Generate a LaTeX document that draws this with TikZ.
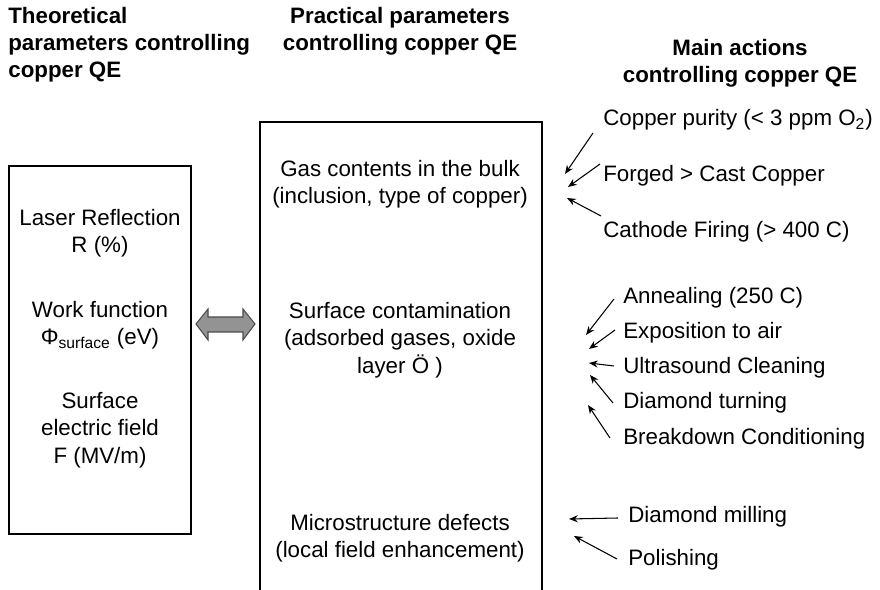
\documentclass[tikz,border=0pt]{standalone}
\usepackage{fontspec}
\setmainfont{Liberation Sans}
\usetikzlibrary{arrows.meta}
\begin{document}
\begin{tikzpicture}[x=0.02cm,y=-0.02cm,
  txt/.style={inner sep=0pt,align=center,font=\fontsize{12.7pt}{15.6pt}\selectfont},
  ltxt/.style={inner sep=0pt,anchor=west,align=left,font=\fontsize{12.7pt}{15.6pt}\selectfont},
  head/.style={inner sep=0pt,align=center,font=\fontsize{12.7pt}{15.4pt}\selectfont\bfseries},
  frame/.style={draw=black,line width=0.85pt},
  act/.style={-{Stealth[length=5pt,width=4pt]},line width=0.6pt}]
\useasboundingbox (0,0) rectangle (880,590);

% column headings
\node[head,anchor=west,align=left] (h1) at (8,45) {Theoretical\\parameters controlling\\copper QE};
\node[head] (h2) at (400,31) {Practical parameters\\controlling copper QE};
\node[head] (h3) at (740,63) {Main actions\\controlling copper QE};

% theoretical parameters box
\node[frame,minimum width=3.64cm,minimum height=7.36cm,inner sep=0pt] (lbox) at (100,350) {};
\node[txt] (refl) at (100,233) {Laser Reflection\\R (\%)};
\node[txt] (wf) at (100,325) {Work function\\Φ\textsubscript{surface} (eV)};
\node[txt] (field) at (100,430) {Surface\\electric field\\F (MV/m)};

% two-way link between the columns
\draw[fill=gray!85,draw=gray!60!black,line width=0.6pt]
  (196,324) -- (208,309) -- (208,317) -- (243,317) -- (243,309) -- (255,324)
  -- (243,340) -- (243,332) -- (208,332) -- (208,340) -- cycle;

% practical parameters box (open at the bottom)
\coordinate (mbl) at (260,590);
\coordinate (mtr) at (542,122);
\coordinate (mbr) at (542,590);
\draw[frame] (mbl) |- (mtr) -- (mbr);
\node[txt] (gas) at (400,184) {Gas contents in the bulk\\(inclusion, type of copper)};
\node[txt] (surf) at (400,340) {Surface contamination\\(adsorbed gases, oxide\\layer Ö )};
\node[txt] (micro) at (400,538) {Microstructure defects\\(local field enhancement)};

% actions on the bulk
\node[ltxt] (pur) at (603,120) {Copper purity (< 3 ppm O\textsubscript{2})};
\node[ltxt] (forg) at (603,176) {Forged > Cast Copper};
\node[ltxt] (fire) at (603,232) {Cathode Firing (> 400 C)};
\coordinate (g1) at (565,174);
\coordinate (g2) at (568,187);
\coordinate (g3) at (567,198);
\draw[act] (593,133) -- (g1);
\draw[act] (600,164) -- (g2);
\draw[act] (601,216) -- (g3);

% actions on the surface
\node[ltxt] (anneal) at (623,298) {Annealing (250 C)};
\node[ltxt] (expo) at (623,333) {Exposition to air};
\node[ltxt] (ultra) at (623,368) {Ultrasound Cleaning};
\node[ltxt] (dturn) at (623,403) {Diamond turning};
\node[ltxt] (bdc) at (623,439) {Breakdown Conditioning};
\coordinate (s1) at (586,335);
\coordinate (s2) at (589,349);
\coordinate (s3) at (589,363);
\coordinate (s4) at (590,375);
\coordinate (s5) at (588,405);
\draw[act] (614,299) -- (s1);
\draw[act] (615,330) -- (s2);
\draw[act] (614,366) -- (s3);
\draw[act] (613,403) -- (s4);
\draw[act] (610,438) -- (s5);

% actions on the microstructure
\node[ltxt] (mill) at (628,517) {Diamond milling};
\node[ltxt] (pol) at (628,560) {Polishing};
\coordinate (d1) at (569,519);
\coordinate (d2) at (574,536);
\draw[act] (618,518) -- (d1);
\draw[act] (617,559) -- (d2);
\end{tikzpicture}
\end{document}
